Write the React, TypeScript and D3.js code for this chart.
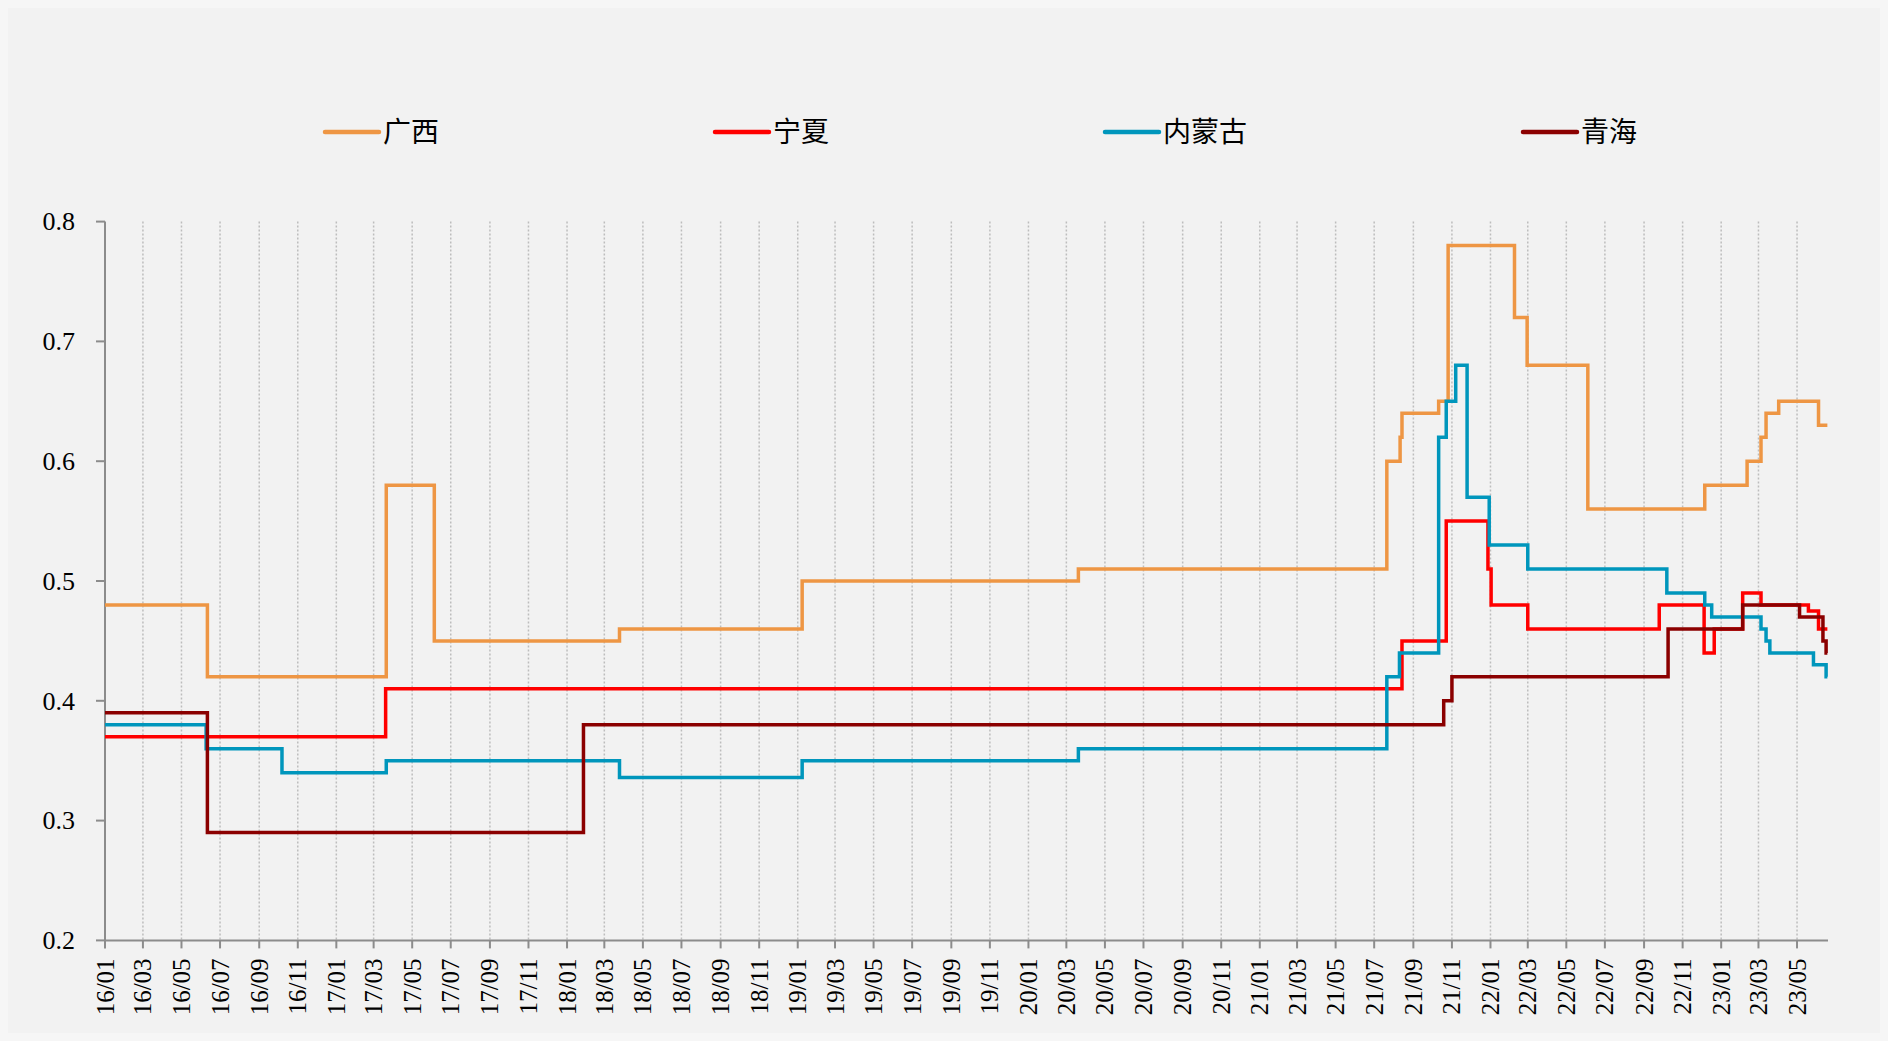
import React, { useEffect } from 'react';
import * as d3 from 'd3';

// series names / colours (legend order)
const names = ['广西', '宁夏', '内蒙古', '青海'];
const colors = ['#EE9644', '#FF0000', '#0096BC', '#8B0000'];

// change points: price holds until the next date
const guangxiDates = ['2016-01-01', '2016-06-11', '2017-03-21', '2017-06-05', '2018-03-25', '2019-01-08', '2020-03-20', '2021-07-21', '2021-08-11', '2021-08-14', '2021-10-11', '2021-10-26', '2022-02-08', '2022-02-28', '2022-06-04', '2022-12-06', '2023-02-11', '2023-03-05', '2023-03-13', '2023-04-02', '2023-06-04'];
const guangxiValues = [0.48, 0.42, 0.58, 0.45, 0.46, 0.5, 0.51, 0.6, 0.62, 0.64, 0.65, 0.78, 0.72, 0.68, 0.56, 0.58, 0.6, 0.62, 0.64, 0.65, 0.63];

const ningxiaDates = ['2016-01-01', '2017-03-20', '2021-08-14', '2021-10-23', '2021-12-28', '2022-01-02', '2022-03-01', '2022-09-25', '2022-12-05', '2022-12-21', '2023-02-04', '2023-03-05', '2023-05-19', '2023-06-04'];
const ningxiaValues = [0.37, 0.41, 0.45, 0.55, 0.51, 0.48, 0.46, 0.48, 0.44, 0.46, 0.49, 0.48, 0.475, 0.46];

const neimengguDates = ['2016-01-01', '2016-06-09', '2016-10-07', '2017-03-21', '2018-03-25', '2019-01-08', '2020-03-20', '2021-07-21', '2021-08-10', '2021-10-11', '2021-10-23', '2021-11-07', '2021-11-25', '2021-12-30', '2022-03-01', '2022-10-07', '2022-12-06', '2022-12-17', '2023-03-05', '2023-03-13', '2023-03-19', '2023-05-27', '2023-06-16'];
const neimengguValues = [0.38, 0.36, 0.34, 0.35, 0.336, 0.35, 0.36, 0.42, 0.44, 0.62, 0.65, 0.68, 0.57, 0.53, 0.51, 0.49, 0.48, 0.47, 0.46, 0.45, 0.44, 0.43, 0.42];

const qinghaiDates = ['2016-01-01', '2016-06-11', '2018-01-27', '2021-10-19', '2021-11-01', '2022-10-09', '2023-02-04', '2023-05-05', '2023-06-11', '2023-06-16'];
const qinghaiValues = [0.39, 0.29, 0.38, 0.4, 0.42, 0.46, 0.48, 0.47, 0.45, 0.44];

const endDate = '2023-06-18';
const axisEnd = '2023-06-19';

const xTickLabels = ['16/01', '16/03', '16/05', '16/07', '16/09', '16/11', '17/01', '17/03', '17/05', '17/07', '17/09', '17/11', '18/01', '18/03', '18/05', '18/07', '18/09', '18/11', '19/01', '19/03', '19/05', '19/07', '19/09', '19/11', '20/01', '20/03', '20/05', '20/07', '20/09', '20/11', '21/01', '21/03', '21/05', '21/07', '21/09', '21/11', '22/01', '22/03', '22/05', '22/07', '22/09', '22/11', '23/01', '23/03', '23/05'];
const yTicks = [0.2, 0.3, 0.4, 0.5, 0.6, 0.7, 0.8];

const seriesDates = [guangxiDates, ningxiaDates, neimengguDates, qinghaiDates];
const seriesValues = [guangxiValues, ningxiaValues, neimengguValues, qinghaiValues];

const W = 1880;
const H = 1025;
const margin = { top: 213.6, right: 60, bottom: 92.6, left: 97 };

const parseDay = d3.timeParse('%Y-%m-%d');
const parseTick = d3.timeParse('%y/%m');

const serif = { fontFamily: '"Liberation Serif", "DejaVu Serif", serif' };
const cjk = { fontFamily: '"Noto Sans CJK SC", sans-serif' };

export default function App() {
  useEffect(() => {
    document.body.style.background = '#f6f6f6';
  }, []);

  const x = d3.scaleTime()
    .domain([parseDay('2016-01-01') as Date, parseDay(axisEnd) as Date])
    .range([margin.left, W - margin.right]);
  const y = d3.scaleLinear()
    .domain([0.2, 0.8])
    .range([H - margin.bottom, margin.top]);

  const line = d3.line<[Date, number]>()
    .x(d => x(d[0]))
    .y(d => y(d[1]))
    .curve(d3.curveStepAfter);

  const series = names.map((name, i) => {
    const pts: [Date, number][] = seriesDates[i].map((d, j) => [parseDay(d) as Date, seriesValues[i][j]]);
    pts.push([parseDay(endDate) as Date, seriesValues[i][seriesValues[i].length - 1]]);
    return { name, color: colors[i], path: line(pts) || '' };
  });

  const xTicks = xTickLabels.map(l => ({ label: l, x: x(parseTick(l) as Date) }));
  const x0 = margin.left;
  const x1 = W - margin.right;
  const yTop = y(0.8);
  const yBottom = y(0.2);

  // legend layout
  const legendY = 124;
  let lx = 317;
  const legend = names.map((name, i) => {
    const item = { name, color: colors[i], x: lx };
    lx += 54 + 4 + name.length * 28 + 276;
    return item;
  });

  const axisColor = '#8c8c8c';

  return (
    <svg width={W} height={H} style={{ display: 'block' }}>
      <rect x={0} y={0} width={W} height={H} fill="#f2f2f2" />

      {/* legend */}
      {legend.map(l => (
        <g key={l.name}>
          <line x1={l.x} x2={l.x + 54} y1={legendY} y2={legendY} stroke={l.color} strokeWidth={4.5} strokeLinecap="round" />
          <text x={l.x + 58} y={legendY} dy="0.36em" fontSize={28} style={cjk} fill="#000">{l.name}</text>
        </g>
      ))}

      {/* vertical dotted gridlines */}
      {xTicks.slice(1).map(t => (
        <line key={'g' + t.label} x1={t.x} x2={t.x} y1={yTop} y2={yBottom} stroke="#bdbdbd" strokeWidth={1.5} strokeDasharray="2 2" />
      ))}

      {/* y axis */}
      <line x1={x0} x2={x0} y1={yTop} y2={yBottom} stroke={axisColor} strokeWidth={2} />
      {yTicks.map(v => (
        <g key={'y' + v}>
          <line x1={x0 - 9} x2={x0} y1={y(v)} y2={y(v)} stroke={axisColor} strokeWidth={2} />
          <text x={67} y={y(v)} dy="0.34em" textAnchor="end" fontSize={26} style={serif} fill="#000">{d3.format('.1f')(v)}</text>
        </g>
      ))}

      {/* x axis */}
      <line x1={x0} x2={x1} y1={yBottom} y2={yBottom} stroke={axisColor} strokeWidth={2} />
      {xTicks.map(t => (
        <g key={'x' + t.label}>
          <line x1={t.x} x2={t.x} y1={yBottom} y2={yBottom + 8} stroke={axisColor} strokeWidth={2} />
          <text transform={`translate(${t.x},${yBottom + 18}) rotate(-90)`} dy="0.34em" textAnchor="end" fontSize={25} style={serif} fill="#000">{t.label}</text>
        </g>
      ))}

      {/* series */}
      {series.map(s => (
        <path key={s.name} d={s.path} fill="none" stroke={s.color} strokeWidth={3.5} />
      ))}
    </svg>
  );
}
